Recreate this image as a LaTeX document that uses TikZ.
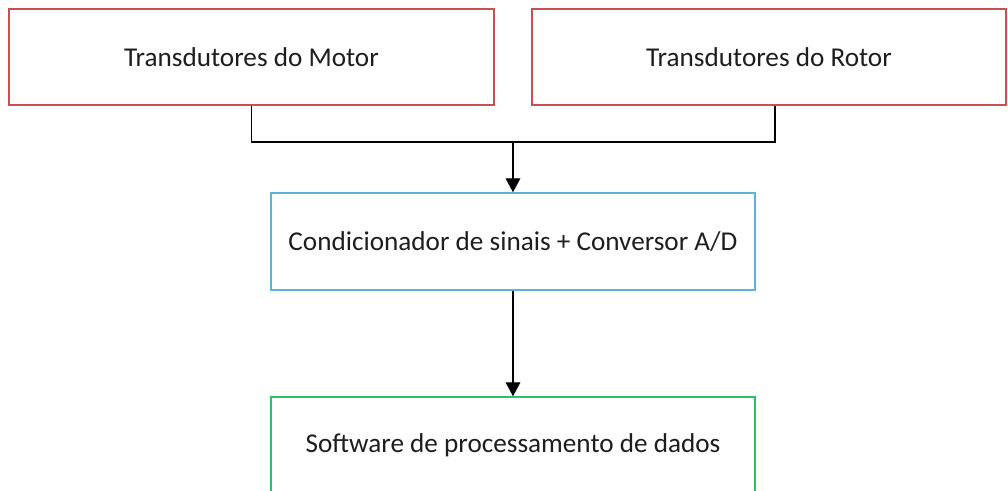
\documentclass[tikz,border=0pt]{standalone}
\usepackage{fontspec}
\setmainfont{Carlito}
\usetikzlibrary{arrows.meta,calc}
\definecolor{boxred}{RGB}{200,80,78}
\definecolor{boxblue}{RGB}{90,180,212}
\definecolor{boxgreen}{RGB}{40,196,105}
\definecolor{txt}{RGB}{30,30,30}
\begin{document}
\begin{tikzpicture}[x=0.75pt,y=-0.75pt,
  blk/.style={draw, line width=1.1pt, fill=white, inner sep=0pt, text=txt,
    font=\fontsize{20.4}{24}\selectfont},
  conn/.style={line width=1pt, black},
  tip/.style={-{Triangle[width=11pt,length=10.5pt]}}]
\useasboundingbox (0,0) rectangle (1008,491);
\node[blk, draw=boxred, minimum width=485*0.75pt, minimum height=96*0.75pt] (b1) at (251.5,57) {Transdutores do Motor};
\node[blk, draw=boxred, minimum width=474*0.75pt, minimum height=96*0.75pt] (b2) at (769,57) {Transdutores do Rotor};
\node[blk, draw=boxblue, minimum width=484*0.75pt, minimum height=97*0.75pt] (b3) at (513,241.5) {Condicionador de sinais + Conversor A/D};
\node[blk, draw=boxgreen, minimum width=484*0.75pt, minimum height=97*0.75pt] (b4) at (513,445.5) {Software de processamento de dados};
\coordinate (j) at (513,142);
\coordinate (r) at ($(b2.south)+(6,0)$);
\draw[conn] (b1.south) |- (j) -| (r);
\draw[conn, tip] (j) -- (b3.north);
\draw[conn, tip] (b3.south) -- (b4.north);
\end{tikzpicture}
\end{document}
